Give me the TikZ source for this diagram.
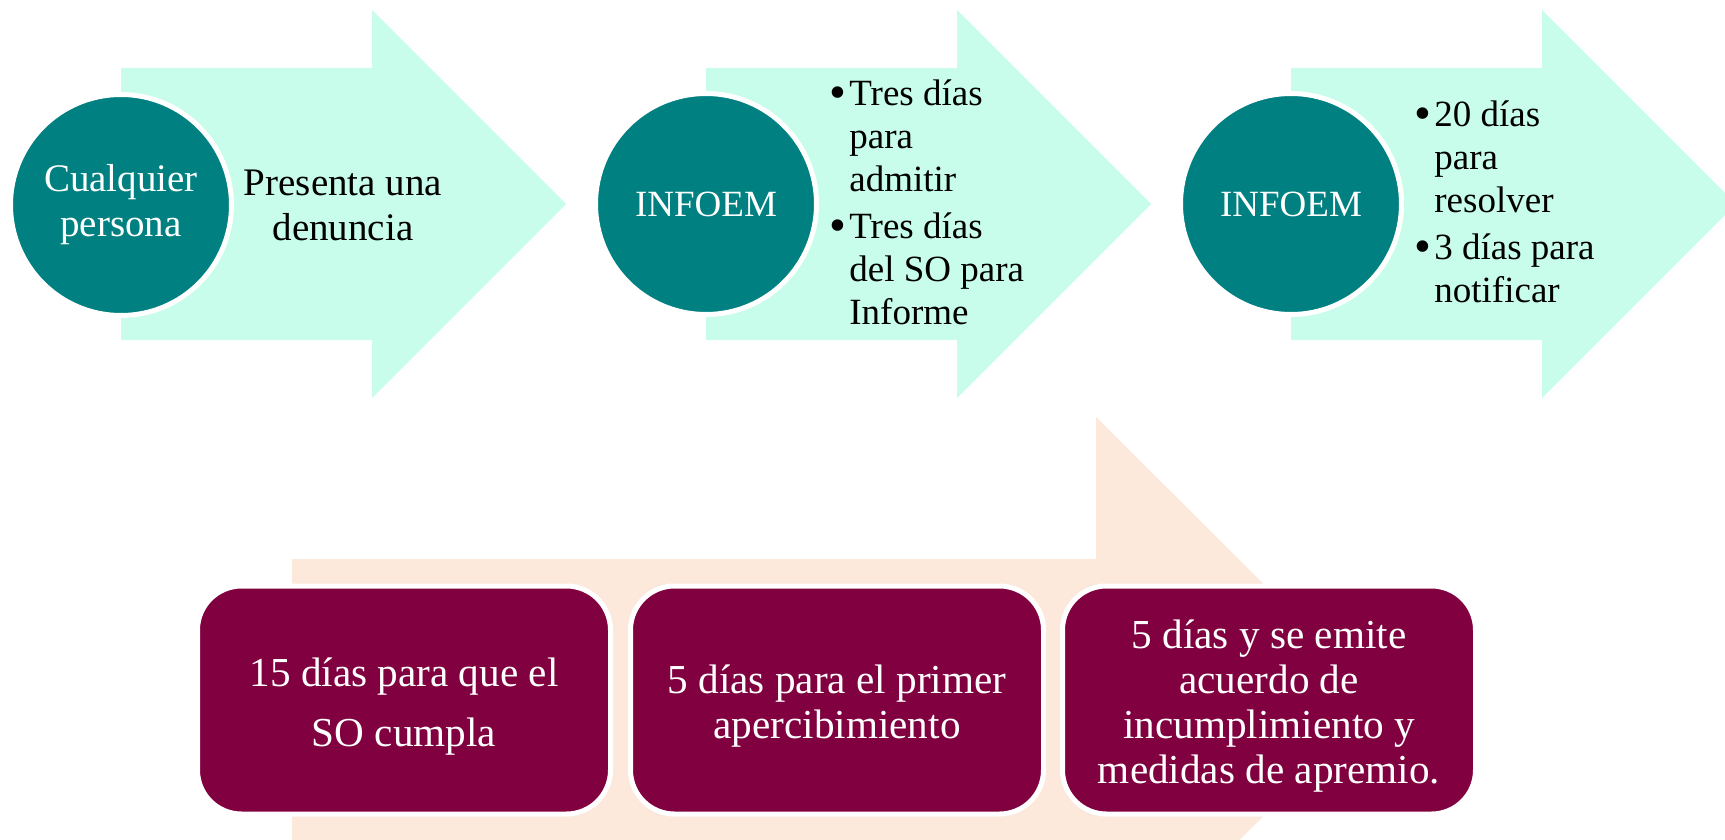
\documentclass[tikz,border=0pt]{standalone}
\usepackage{fontspec}
\setmainfont{Liberation Serif}
\usetikzlibrary{positioning}

\definecolor{infoteal}{RGB}{0,128,128}
\definecolor{mint}{RGB}{199,253,234}
\definecolor{peach}{RGB}{252,233,219}
\definecolor{wine}{RGB}{128,0,64}

\newcommand{\itemdot}{\makebox[10pt][l]{\raisebox{-1.5pt}{\scalebox{1.3}{\textbullet}}}}
\newcommand{\itemgap}{\hspace*{10pt}}
\newcommand{\toproom}{\rule{0pt}{20.5pt}}

\begin{document}
\begin{tikzpicture}[x=0.5pt, y=-0.5pt,
    actor/.style={circle, fill=infoteal, draw=white, line width=2.5pt, minimum size=110.5pt, inner sep=0pt, text=white, align=center, font=\fontsize{18.5}{21.5}\selectfont},
    info/.style={inner sep=0pt, align=left, font=\fontsize{18.5}{21.5}\selectfont},
    bigger/.style={font=\fontsize{19.5}{22.5}\selectfont},
    term/.style={rectangle, rounded corners=22pt, fill=wine, draw=white, line width=2.5pt, minimum width=206.5pt, minimum height=114pt, inner sep=0pt, text=white, align=center, font=\fontsize{20.6}{22.5}\selectfont}
]
    \useasboundingbox (0,0) rectangle (1725,840);

    % Top row of arrows
    \foreach \x in {121,706,1291} {
        \fill[mint] (\x,68) -- (\x+251,68) -- (\x+251,10) -- (\x+445,204) -- (\x+251,398) -- (\x+251,340) -- (\x,340) -- cycle;
    }

    % Bottom arrow
    \fill[peach] (292,559) -- (1096,559) -- (1096,417) -- (1380,700) -- (1096,983) -- (1096,841) -- (292,841) -- cycle;

    % Who acts
    \node[actor, bigger] (anyone) at (121,205) {Cualquier\\persona};
    \node[actor] (infoem1) at (706,204) {INFOEM};
    \node[actor] (infoem2) at (1291,204) {INFOEM};

    % What happens
    \node[info, bigger, align=center] (denounce) at (343,205) {Presenta una\\denuncia};
    \node[info, anchor=west] (admit) at (829,202) {\itemdot Tres días\\\itemgap para\\\itemgap admitir\\[2pt]\itemdot Tres días\\\itemgap del SO para\\\itemgap Informe};
    \node[info, anchor=west] (resolve) at (1414,202) {\itemdot 20 días\\\itemgap para\\\itemgap resolver\\[2pt]\itemdot 3 días para\\\itemgap notificar};

    % Deadlines
    \node[term] (comply) at (404,700) {\toproom 15 días para que el\\[7.5pt]SO cumpla};
    \node[term] (warn) at (837,700) {\toproom 5 días para el primer\\apercibimiento};
    \node[term] (enforce) at (1269,700) {\toproom 5 días y se emite\\acuerdo de\\incumplimiento y\\medidas de apremio.};

\end{tikzpicture}
\end{document}
